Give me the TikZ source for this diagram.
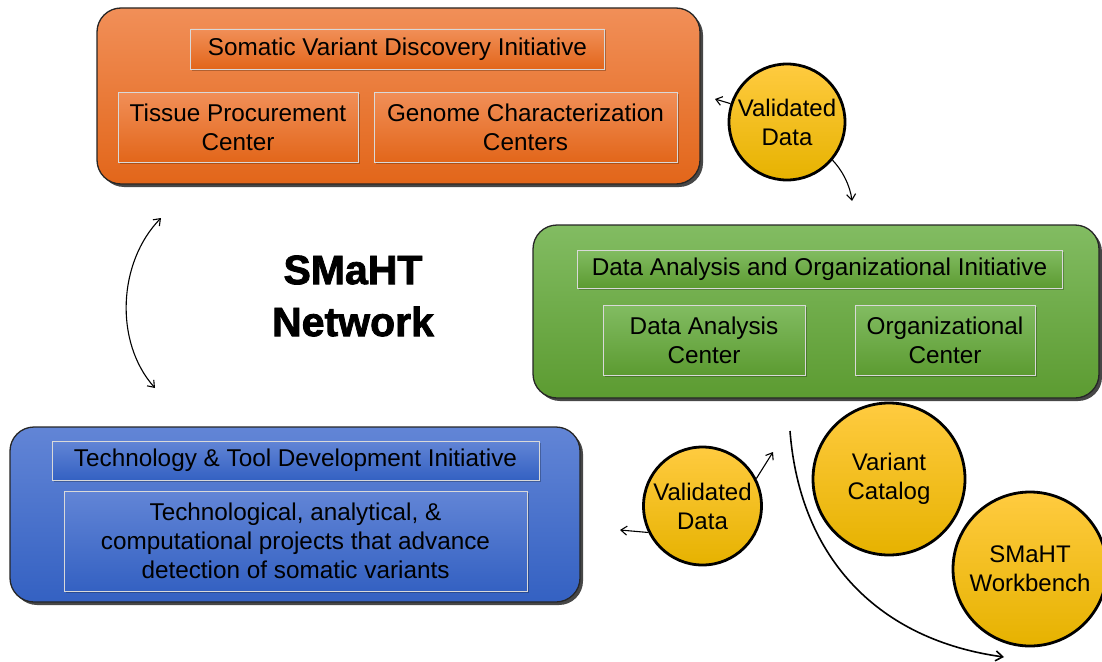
\documentclass[tikz,border=0pt]{standalone}
\usepackage{fontspec}
\setmainfont{Liberation Sans}
\newfontfamily\netfont{Liberation Sans Bold}[FakeBold=2]
\usetikzlibrary{shadows,arrows.meta}
\definecolor{orT}{HTML}{F18F58}
\definecolor{orB}{HTML}{E2661A}
\definecolor{grT}{HTML}{82BC62}
\definecolor{grB}{HTML}{5C9B31}
\definecolor{blT}{HTML}{6285D6}
\definecolor{blB}{HTML}{3461C2}
\definecolor{ylT}{HTML}{FFCB40}
\definecolor{ylB}{HTML}{E6B200}
\tikzset{
  outerbox/.style={rectangle, rounded corners=24pt, draw=black!85, line width=1.3pt,
    drop shadow={shadow xshift=3pt, shadow yshift=-3pt, fill=black!80, opacity=0.9}},
  innerbox/.style={rectangle, draw=white!85!black, line width=0.9pt, align=center,
    font=\fontsize{24.3}{29}\selectfont,
    drop shadow={shadow xshift=1.5pt, shadow yshift=-1.5pt, fill=black, opacity=0.25}},
  orangefill/.style={top color=orT, bottom color=orB},
  greenfill/.style={top color=grT, bottom color=grB},
  bluefill/.style={top color=blT, bottom color=blB},
  bubble/.style={circle, draw=black, line width=2.8pt, top color=ylT, bottom color=ylB,
    align=center, inner sep=0pt, font=\fontsize{24}{29}\selectfont},
  link/.style={line width=1.1pt, -{Straight Barb[length=6pt,width=9pt]}},
  biglink/.style={line width=1.6pt, -{Straight Barb[length=7pt,width=10pt]}}
}
\begin{document}
\begin{tikzpicture}[x=1pt,y=-1pt]
\useasboundingbox (0,0) rectangle (1102,661);

% outer containers
\node[outerbox, orangefill, minimum width=603pt, minimum height=176pt] (svd) at (398.5,96) {};
\node[outerbox, greenfill, minimum width=566pt, minimum height=173pt] (dao) at (816,311.5) {};
\node[outerbox, bluefill, minimum width=570pt, minimum height=175pt] (ttd) at (295,514.5) {};

% orange inner
\node[innerbox, orangefill, minimum width=414pt, minimum height=40pt] (svdi) at (397.5,49) {Somatic Variant Discovery Initiative};
\node[innerbox, orangefill, minimum width=240pt, minimum height=70pt] (tpc) at (238,127) {Tissue Procurement\\Center};
\node[innerbox, orangefill, minimum width=303pt, minimum height=70pt] (gcc) at (525.5,127) {Genome Characterization\\Centers};

% green inner
\node[innerbox, greenfill, minimum width=485pt, minimum height=38pt] (daoi) at (819.5,269) {Data Analysis and Organizational Initiative};
\node[innerbox, greenfill, minimum width=202pt, minimum height=70pt] (dac) at (704,340) {Data Analysis\\Center};
\node[innerbox, greenfill, minimum width=180pt, minimum height=70pt] (oc) at (945,340) {Organizational\\Center};

% blue inner
\node[innerbox, bluefill, minimum width=487pt, minimum height=39pt] (ttdi) at (295.5,460.5) {Technology \& Tool Development Initiative};
\node[innerbox, bluefill, minimum width=463pt, minimum height=100pt] (tech) at (295.5,541) {Technological, analytical, \&\\computational projects that advance\\detection of somatic variants};

% network title
\node[font=\netfont\fontsize{41}{52}\selectfont, align=center, text=black] (net) at (353,296) {SMaHT\\Network};

% bubbles
\node[bubble, minimum size=116pt] (vd1) at (787,122) {Validated\\Data};
\node[bubble, minimum size=118pt] (vd2) at (702.5,506) {Validated\\Data};
\node[bubble, minimum size=152pt] (vc) at (889,479) {Variant\\Catalog};
\node[bubble, minimum size=154pt] (wb) at (1030,569) {SMaHT\\Workbench};

% free ends
\coordinate (a1) at (715,99);
\coordinate (a2) at (852,201);
\coordinate (b1) at (620,530);
\coordinate (b2) at (773,452);
\coordinate (c0) at (790,431);
\coordinate (c1) at (1004,657);
\coordinate (d0) at (161,218);
\coordinate (d1) at (155,388);

% connectors
\draw[link] (vd1.162) -- (a1);
\draw[link] (vd1.-40) .. controls (842,170) and (850,185) .. (a2);
\draw[link] (vd2.206) -- (b1);
\draw[link] (vd2.27) -- (b2);
\draw[biglink] (c0) .. controls (800,560) and (880,640) .. (c1);
\draw[link, {Straight Barb[length=6pt,width=9pt]}-{Straight Barb[length=6pt,width=9pt]}] (d0) .. controls (118,262) and (114,342) .. (d1);
\end{tikzpicture}
\end{document}
